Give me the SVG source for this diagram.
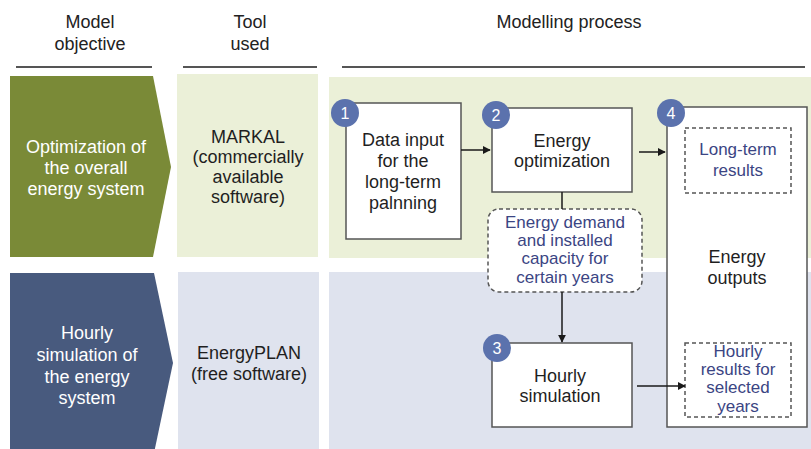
<svg xmlns="http://www.w3.org/2000/svg" width="811" height="449" viewBox="0 0 811 449">
  <defs>
    <marker id="arrow" viewBox="0 0 10 10" refX="9" refY="5" markerWidth="8" markerHeight="8" markerUnits="userSpaceOnUse" orient="auto">
      <path d="M0,0 L10,5 L0,10 z" fill="#1a1a1a"/>
    </marker>
    <style>
      text { font-family: "Liberation Sans", Arial, sans-serif; font-size: 18px; text-anchor: middle; }
      .head { fill: #222; }
      .white { fill: #ffffff; }
      .dark { fill: #1f1f1f; }
      .blue { fill: #3b4583; font-size: 17px; }
      .num { fill: #ffffff; font-size: 16px; }
      .rule { stroke: #555; stroke-width: 2; }
      .box { fill: #ffffff; stroke: #555; stroke-width: 1.5; }
      .dash { fill: #ffffff; stroke: #555; stroke-width: 1.5; stroke-dasharray: 4 3; }
      .badge { fill: #5b72ad; }
      .wire { stroke: #1a1a1a; stroke-width: 1.5; fill: none; }
    </style>
  </defs>
  <rect width="811" height="449" fill="#ffffff"/>

  <!-- column headers -->
  <g id="headers">
    <text class="head" x="90" y="28">Model</text>
    <text class="head" x="90" y="50">objective</text>
    <text class="head" x="250" y="28">Tool</text>
    <text class="head" x="250" y="50">used</text>
    <text class="head" x="569" y="28">Modelling process</text>
    <line class="rule" x1="16" y1="67" x2="152" y2="67"/>
    <line class="rule" x1="183" y1="67" x2="317" y2="67"/>
    <line class="rule" x1="342" y1="67" x2="805" y2="67"/>
  </g>

  <!-- row bands -->
  <g id="bands">
    <rect x="177" y="74" width="141" height="183" fill="#ebf0d8"/>
    <rect x="329" y="77" width="482" height="181" fill="#ebf0d8"/>
    <rect x="178" y="272" width="141" height="177" fill="#dfe3ee"/>
    <rect x="329" y="272" width="482" height="177" fill="#dfe3ee"/>
  </g>

  <!-- objective chevrons -->
  <g id="objective-optimization">
    <path d="M10,76 L153,76 L171,167 L153,257 L10,257 Z" fill="#7a8a37"/>
    <text class="white" x="86" y="153">Optimization  of</text>
    <text class="white" x="86" y="174">the overall</text>
    <text class="white" x="86" y="195">energy system</text>
  </g>
  <g id="objective-simulation">
    <path d="M10,273 L154,273 L173,363 L154,453 L10,453 Z" fill="#485a7e"/>
    <text class="white" x="87" y="339">Hourly</text>
    <text class="white" x="87" y="361">simulation  of</text>
    <text class="white" x="87" y="383">the energy</text>
    <text class="white" x="87" y="404">system</text>
  </g>

  <!-- tools -->
  <g id="tool-markal">
    <text class="dark" x="248" y="143">MARKAL</text>
    <text class="dark" x="248" y="163">(commercially</text>
    <text class="dark" x="248" y="183">available</text>
    <text class="dark" x="248" y="203">software)</text>
  </g>
  <g id="tool-energyplan">
    <text class="dark" x="249" y="359">EnergyPLAN</text>
    <text class="dark" x="249" y="380">(free software)</text>
  </g>

  <!-- step 1 -->
  <g id="step1-data-input">
    <rect class="box" x="346" y="103" width="115" height="136"/>
    <text class="dark" x="403" y="146">Data input</text>
    <text class="dark" x="403" y="167">for the</text>
    <text class="dark" x="403" y="188">long-term</text>
    <text class="dark" x="403" y="209">palnning</text>
    <circle class="badge" cx="345" cy="113" r="14"/>
    <text class="num" x="345" y="119">1</text>
  </g>

  <!-- step 2 -->
  <g id="step2-optimization">
    <rect class="box" x="492" y="108" width="140" height="84"/>
    <text class="dark" x="562" y="147">Energy</text>
    <text class="dark" x="562" y="167">optimization</text>
    <circle class="badge" cx="496" cy="115" r="14"/>
    <text class="num" x="496" y="121">2</text>
  </g>

  <!-- data passed from step 2 to step 3 -->
  <g id="demand-capacity">
    <rect class="dash" x="488" y="209" width="154" height="83" rx="11"/>
    <text class="blue" x="565" y="228">Energy demand</text>
    <text class="blue" x="565" y="246">and installed</text>
    <text class="blue" x="565" y="264">capacity for</text>
    <text class="blue" x="565" y="283">certain years</text>
  </g>

  <!-- step 3 -->
  <g id="step3-simulation">
    <rect class="box" x="492" y="343" width="140" height="84"/>
    <text class="dark" x="560" y="382">Hourly</text>
    <text class="dark" x="560" y="402">simulation</text>
    <circle class="badge" cx="497" cy="348" r="14"/>
    <text class="num" x="497" y="354">3</text>
  </g>

  <!-- step 4 -->
  <g id="step4-outputs">
    <rect class="box" x="667" y="107" width="140" height="320"/>
    <rect class="dash" x="685" y="128" width="106" height="65"/>
    <text class="blue" x="738" y="155">Long-term</text>
    <text class="blue" x="738" y="176">results</text>
    <text class="dark" x="737" y="263">Energy</text>
    <text class="dark" x="737" y="284">outputs</text>
    <rect class="dash" x="685" y="343" width="106" height="74"/>
    <text class="blue" x="738" y="357">Hourly</text>
    <text class="blue" x="738" y="375">results for</text>
    <text class="blue" x="738" y="393">selected</text>
    <text class="blue" x="738" y="412">years</text>
    <circle class="badge" cx="671" cy="113" r="14"/>
    <text class="num" x="671" y="119">4</text>
  </g>

  <!-- connectors, drawn on top of the boxes -->
  <g id="connectors">
    <line class="wire" x1="461" y1="150" x2="490" y2="150" marker-end="url(#arrow)"/>
    <line class="wire" x1="639" y1="152" x2="665" y2="152" marker-end="url(#arrow)"/>
    <line class="wire" x1="562" y1="192" x2="562" y2="209"/>
    <line class="wire" x1="562" y1="292" x2="562" y2="342" marker-end="url(#arrow)"/>
    <line class="wire" x1="637" y1="386" x2="685" y2="386" marker-end="url(#arrow)"/>
  </g>
</svg>
